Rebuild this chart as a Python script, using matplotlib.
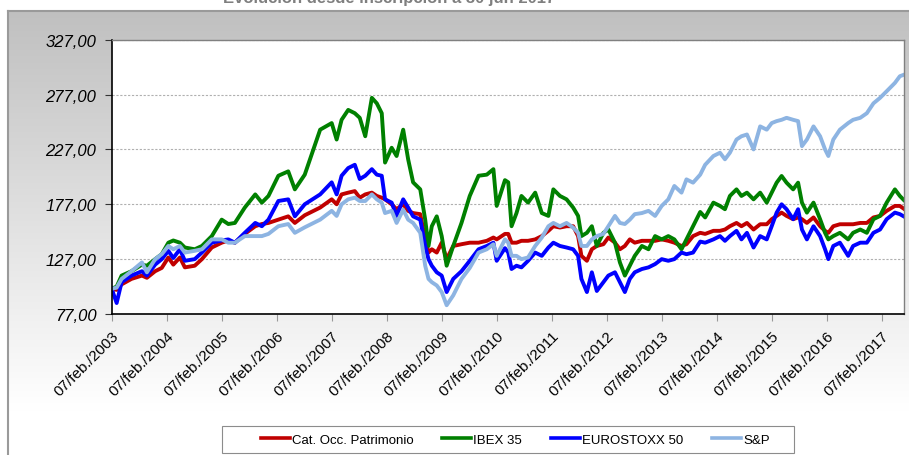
import numpy as np
import matplotlib
matplotlib.use("Agg")
import matplotlib.pyplot as plt
from matplotlib.patches import Rectangle
from matplotlib.lines import Line2D

plt.rcParams['font.family'] = ['Liberation Sans', 'DejaVu Sans']

# ---------------- data (decimal years, index base 100) ----------------
years = [2003.10, 2003.19, 2003.28, 2003.46, 2003.65, 2003.74, 2003.89, 2004.01, 2004.13, 2004.22,
         2004.34, 2004.43, 2004.61, 2004.74, 2004.92, 2005.10, 2005.22, 2005.34, 2005.52, 2005.71,
         2005.83, 2005.95, 2006.13, 2006.31, 2006.43, 2006.61, 2006.89, 2007.10, 2007.19, 2007.28,
         2007.40, 2007.52, 2007.61, 2007.71, 2007.83, 2007.92, 2008.01, 2008.07, 2008.19, 2008.28,
         2008.40, 2008.49, 2008.58, 2008.71, 2008.80, 2008.86, 2008.92, 2009.01, 2009.10, 2009.19,
         2009.31, 2009.46, 2009.61, 2009.77, 2009.92, 2010.04, 2010.10, 2010.25, 2010.31, 2010.37,
         2010.46, 2010.55, 2010.67, 2010.80, 2010.92, 2011.04, 2011.13, 2011.25, 2011.37, 2011.49,
         2011.58, 2011.64, 2011.74, 2011.83, 2011.92, 2012.04, 2012.13, 2012.25, 2012.34, 2012.43,
         2012.52, 2012.61, 2012.74, 2012.86, 2012.98, 2013.10, 2013.22, 2013.33, 2013.46, 2013.55,
         2013.67, 2013.80, 2013.89, 2014.04, 2014.16, 2014.25, 2014.34, 2014.46, 2014.55, 2014.65,
         2014.77, 2014.89, 2015.01, 2015.10, 2015.19, 2015.28, 2015.37, 2015.49, 2015.58, 2015.65,
         2015.74, 2015.86, 2015.98, 2016.07, 2016.13, 2016.22, 2016.34, 2016.49, 2016.58, 2016.71,
         2016.83, 2016.95, 2017.07, 2017.19, 2017.34, 2017.43, 2017.50]

cat_occ = [100, 99, 104, 109, 112, 110, 116, 119, 128.5, 122,
           128.5, 119.5, 121, 127, 137.6, 142, 144, 142, 150, 157,
           159, 160, 163, 166, 160, 167, 174, 181.5, 177, 186,
           187.6, 189, 183, 186, 187.6, 184.6, 183, 181.5, 177, 172.5,
           177, 171, 169, 168, 145, 133, 136, 133, 142, 127,
           139, 140.6, 142, 142, 143.7, 146.7, 145, 150, 150, 142,
           142, 143.7, 143.7, 145, 148, 152.8, 157, 155.8, 157, 157,
           148, 130, 125.5, 136, 139, 140.6, 146.7, 142, 136, 139,
           145, 142, 143.7, 143.7, 143.7, 145, 143.7, 142, 139, 140.6,
           148, 151, 150, 152.8, 152.8, 154, 157, 160, 157, 160,
           154, 158.8, 158.8, 163.4, 166.4, 169.4, 166.4, 163.4, 165, 163.4,
           160, 165, 157, 152.8, 151, 157, 158.8, 158.8, 158.8, 160,
           160, 165, 166.4, 171, 175.5, 175.5, 173]

ibex35 = [100, 102, 112, 116, 122, 121, 127, 131.5, 142, 144,
          142, 137.6, 136, 139, 148, 163, 159, 160, 174, 186,
          178.5, 184.6, 203, 207, 190.6, 204, 245, 251, 236, 254,
          263, 260, 255.8, 239, 274, 269, 260, 215, 228.5, 221,
          245, 218, 197, 190.6, 163, 139, 157, 166, 148, 121,
          139, 160, 184.6, 203, 204, 209, 175.5, 199, 197, 157,
          169, 184.6, 178.5, 187.6, 169, 166.4, 190.6, 184.6, 181.5, 174,
          166.4, 148, 151, 157, 139, 151, 154, 142, 124, 112,
          121, 130, 139, 136, 148, 145, 148, 145, 136, 145,
          157, 170, 165, 178.5, 175.5, 172.5, 184.6, 190.6, 184.6, 187.6,
          181.5, 187.6, 178.5, 187.6, 196.7, 202.8, 196.7, 190.6, 196.7, 178.5,
          169.4, 178.5, 163.4, 151, 145, 148, 151, 145, 151, 154,
          151, 163.4, 166.4, 178.5, 190.6, 184.6, 181]

eurostoxx50 = [100, 87, 106, 112, 116, 112, 122, 127, 134.5, 128,
               136, 125.5, 127, 133, 142, 144, 145, 142, 151, 160,
               157, 163, 180, 181.5, 166, 177, 186, 197, 186, 203,
               210, 213, 200, 203, 209, 204, 203, 181.5, 178.5, 166.4,
               181.5, 174, 166, 163, 139, 127, 121, 115, 112, 97,
               109, 116, 125.5, 136, 139, 142, 125.5, 137, 133, 118,
               121, 119.5, 125.5, 133, 130, 137.6, 142, 139, 137.6, 136,
               130, 109, 97, 115, 98, 106, 112, 115, 106, 97,
               109, 115, 118, 119.5, 122.5, 127, 125.5, 127, 133, 131.5,
               133, 143, 142, 145, 148, 143.7, 148, 152.8, 145, 151,
               137.6, 148, 145, 157, 169.4, 177, 172.5, 163.4, 172.5, 154,
               145, 157, 148, 136, 127, 139, 142, 130, 139, 142,
               142, 151, 154, 163.4, 169.4, 168, 166]

sp = [100, 101, 109, 116, 124, 115, 127, 131.5, 139, 136,
      139, 133, 134.6, 136, 145, 145, 142, 142, 148, 148,
      148, 150, 157, 159, 151, 156, 163, 171, 166.4, 177,
      181.5, 183, 180, 180, 186, 181.5, 178.5, 169, 171, 160,
      172, 163, 160, 151, 121, 109, 106, 103, 97, 85,
      94, 109, 119, 133, 136, 140.6, 130, 145, 142, 130,
      130, 127, 128.5, 139, 146.7, 157, 160, 157, 160, 155.8,
      151, 139, 139, 145, 148, 150, 157, 166.4, 160, 159,
      163, 168, 169, 171, 166.4, 175.5, 181.5, 193.7, 187.6, 199.7,
      196.7, 204, 213, 221, 224, 218, 224, 236, 239, 240.6,
      227, 248, 245, 251, 252.8, 254, 255.8, 254, 252.8, 230,
      236, 248, 239, 227, 221, 236, 245, 251, 254, 255.8,
      260, 269, 274, 280, 287.6, 293.7, 295]

series_names = ["Cat. Occ. Patrimonio", "IBEX 35", "EUROSTOXX 50", "S&P"]
series_colors = ["#C00000", "#008000", "#0000FF", "#8DB4E2"]
tick_years = list(range(2003, 2018))
x_tick_labels = ["07/feb./%d" % y for y in tick_years]
y_ticks = [77, 127, 177, 227, 277, 327]
title = "Evolución desde inscripción a 30 jun 2017"

# ---------------- figure ----------------
W, H = 909, 456
fig = plt.figure(figsize=(W / 100, H / 100), dpi=100)
fig.patch.set_facecolor("white")

# gradient background panel
bg = fig.add_axes([8 / W, 0, 1 - 8 / W, (H - 12) / H])
grad = np.clip(np.linspace(192, 262, 256), 0, 255) / 255.0
img = np.repeat(grad[:, None], 2, axis=1)
img = np.dstack([img, img, img])
bg.imshow(img, aspect="auto", extent=[0, 1, 0, 1], origin="upper")
bg.set_xlim(0, 1)
bg.set_ylim(0, 1)
bg.set_xticks([])
bg.set_yticks([])
for s in ["right", "bottom"]:
    bg.spines[s].set_visible(False)
for s in ["top", "left"]:
    bg.spines[s].set_color("#9a9a9a")
    bg.spines[s].set_linewidth(1.5)

fig.text(389 / W, 1 - 3.5 / H, title, ha="center", va="baseline",
         fontsize=12, fontweight="bold", color="#7f7f7f")

# main axes
left, right, top, bottom = 111.7, 904.5, 40.7, 315.0
ax = fig.add_axes([left / W, (H - bottom) / H, (right - left) / W, (bottom - top) / H])
ax.set_facecolor("white")

data = [cat_occ, ibex35, eurostoxx50, sp]
for vals, name, col in zip(data, series_names, series_colors):
    ax.plot(years, vals, color=col, lw=2.8, label=name, solid_joinstyle="round")

x0 = 2003.1
ax.set_xlim(x0, x0 + (right - left) / 55.0)
ax.set_ylim(77, 327)
ax.set_yticks(y_ticks)
ax.set_yticklabels(["%d,00" % v for v in y_ticks], fontsize=12, fontstyle="italic")
ax.set_xticks([y + 0.1 for y in tick_years])
ax.set_xticklabels(x_tick_labels, fontsize=11, rotation=45, ha="right", va="top",
                   rotation_mode="anchor")
ax.tick_params(axis="y", direction="out", length=5, width=0.8, color="#333333", pad=6)
ax.tick_params(axis="x", direction="out", length=5, width=0.8, color="#999999", pad=5)
ax.yaxis.grid(True, color="#b0b0b0", lw=0.8, linestyle=(0, (2, 1.5)))
ax.set_axisbelow(True)
for s in ["left", "bottom"]:
    ax.spines[s].set_color("black")
    ax.spines[s].set_linewidth(1.2)
for s in ["top", "right"]:
    ax.spines[s].set_color("#808080")
    ax.spines[s].set_linewidth(1.0)

# legend box
lx0, lx1, ly0, ly1 = 222, 794, 427, 454
fig.patches.append(Rectangle((lx0 / W, 1 - ly1 / H), (lx1 - lx0) / W, (ly1 - ly0) / H,
                             transform=fig.transFigure, facecolor="white",
                             edgecolor="#8c8c8c", lw=0.8, zorder=3))
handles = [Line2D([], [], color=c, lw=2.6) for c in series_colors]
leg = fig.legend(handles, series_names, loc="center", ncol=4,
                 bbox_to_anchor=((lx0 + lx1) / 2 / W + 0.008, 1 - (ly0 + ly1) / 2 / H),
                 frameon=False, fontsize=9.5, handlelength=2.2, handletextpad=0.15,
                 columnspacing=2.2, borderpad=0.2)
leg.set_zorder(5)

fig.savefig("out.png", dpi=100)
